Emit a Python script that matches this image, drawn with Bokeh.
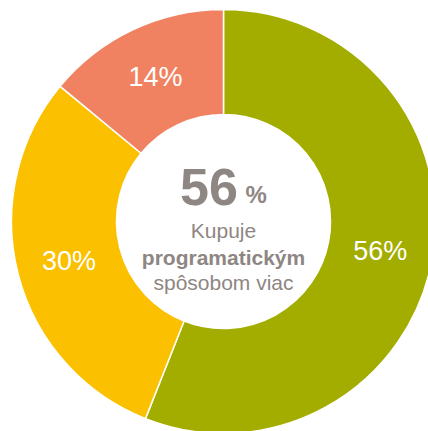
import numpy as np
from bokeh.plotting import figure
from bokeh.models import ColumnDataSource, Range1d
from bokeh.core.properties import value
from bokeh.embed import file_html
from bokeh.resources import INLINE

# ---- data ----
categories = ["Viac programaticky", "Rovnako", "Menej"]
shares = [56, 30, 14]
colors = ["#A3AD00", "#FBC000", "#F08262"]
headline_number = "56"
headline_unit = "%"
caption_lines = ["Kupuje", "programatickým", "spôsobom viac"]

# ---- layout ----
W, H = 428, 431
cx, cy = 223, 210
R_OUT, R_IN = 212, 107
FONT = "Liberation Sans"
GRAY = "#8E8682"

vals = np.array(shares, dtype=float)
frac = vals / vals.sum()
ends = np.pi / 2 - np.cumsum(frac) * 2 * np.pi
starts = np.concatenate([[np.pi / 2], ends[:-1]])
mids = (starts + ends) / 2
r_mid = (R_OUT + R_IN) / 2

src = ColumnDataSource(dict(
    cat=categories, start=ends, end=starts, color=colors,
    lx=cx + r_mid * np.cos(mids), ly=cy + r_mid * np.sin(mids),
    label=[f"{int(v)}%" for v in shares],
))

p = figure(width=W, height=H, x_range=Range1d(0, W), y_range=Range1d(0, H),
           output_backend="svg", toolbar_location=None, min_border=0)
p.axis.visible = False
p.grid.visible = False
p.outline_line_color = None
p.background_fill_color = "white"
p.border_fill_color = "white"

p.annular_wedge(x=cx, y=cy, inner_radius=R_IN, outer_radius=R_OUT,
                start_angle="start", end_angle="end", fill_color="color",
                line_color="white", line_width=1.5, source=src)

p.text(x="lx", y="ly", text="label", source=src, text_color="white",
       text_font=value(FONT), text_font_size="27px",
       text_align="center", text_baseline="middle")

# centre texts (page coords -> data: y = 431 - py)
p.text(x=[208.5], y=[H - 186], text=[headline_number], text_color=GRAY,
       text_font=value(FONT), text_font_style="bold", text_font_size="52px",
       text_align="center", text_baseline="alphabetic")
p.text(x=[245], y=[H - 194], text=[headline_unit], text_color=GRAY,
       text_font=value(FONT), text_font_style="bold", text_font_size="24px",
       text_align="left", text_baseline="alphabetic")

baselines = [230, 257, 282]
styles = ["normal", "bold", "normal"]
for line, b, st in zip(caption_lines, baselines, styles):
    p.text(x=[223], y=[H - b], text=[line], text_color=GRAY,
           text_font=value(FONT), text_font_style=st, text_font_size="21px",
           text_align="center", text_baseline="alphabetic")

open("out.html", "w").write(file_html(p, INLINE))
